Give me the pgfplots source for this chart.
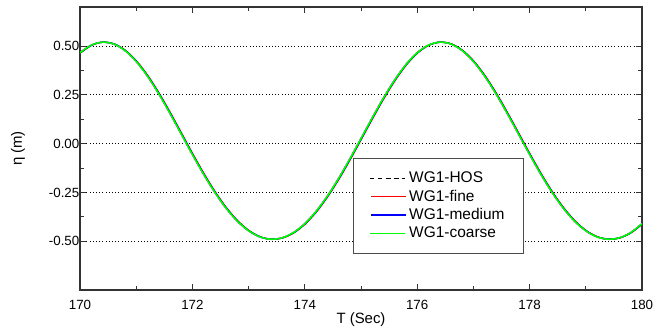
\documentclass[border=0pt]{standalone}
\usepackage{fontspec}
\setmainfont{Liberation Sans}
\usepackage{pgfplots}
\pgfplotsset{compat=1.18}
\usepackage{pgfplotstable}
\definecolor{cred}{RGB}{255,0,0}
\definecolor{cblue}{RGB}{0,0,255}
\definecolor{cgreen}{RGB}{0,255,0}
\pgfplotstableread{
t eta
170.0 0.4665
170.2 0.5051
170.4 0.5199
170.6 0.5100
170.8 0.4761
171.0 0.4199
171.2 0.3448
171.4 0.2547
171.6 0.1543
171.8 0.0488
172.0 -0.0571
172.2 -0.1584
172.4 -0.2513
172.6 -0.3322
172.8 -0.3982
173.0 -0.4473
173.2 -0.4783
173.4 -0.4899
173.6 -0.4822
173.8 -0.4551
174.0 -0.4095
174.2 -0.3466
174.4 -0.2685
174.6 -0.1779
174.8 -0.0778
175.0 0.0275
175.2 0.1334
175.4 0.2353
175.6 0.3278
175.8 0.4062
176.0 0.4665
176.2 0.5051
176.4 0.5199
176.6 0.5100
176.8 0.4761
177.0 0.4199
177.2 0.3448
177.4 0.2547
177.6 0.1543
177.8 0.0488
178.0 -0.0571
178.2 -0.1584
178.4 -0.2513
178.6 -0.3322
178.8 -0.3982
179.0 -0.4473
179.2 -0.4783
179.4 -0.4899
179.6 -0.4822
179.8 -0.4551
180.0 -0.4095
}\wgdata
\begin{document}
\begin{tikzpicture}
\begin{axis}[
  at={(0,0)}, anchor=south west,
  scale only axis,
  width=421.5pt, height=212.25pt,
  xmin=170, xmax=180, ymin=-0.75, ymax=0.70,
  xtick={170,172,...,180},
  minor x tick num=1,
  ytick={-0.5,-0.25,0,0.25,0.5},
  minor y tick num=1,
  yticklabel style={/pgf/number format/.cd, fixed, fixed zerofill, precision=2},
  /pgf/number format/assume math mode=true,
  tick align=inside,
  major tick length=4.5pt, minor tick length=3pt,
  tick style={black!80, line width=0.6pt},
  axis line style={black!80, line width=0.8pt},
  ymajorgrids,
  major grid style={black, dotted, line width=0.6pt},
  tick label style={font=\fontsize{10}{12}\selectfont},
  xticklabel shift=4pt,
  yticklabel shift=-3pt,
  xlabel={T (Sec)},
  ylabel={η (m)},
  every axis x label/.style={at={(rel axis cs:0.5,0)}, anchor=center, yshift=-22.5pt, font=\fontsize{11.2}{13}\selectfont},
  every axis y label/.style={at={(rel axis cs:0,0.5)}, anchor=center, xshift=-46.5pt, rotate=90, font=\fontsize{11.2}{13}\selectfont},
  legend style={at={(rel axis cs:0.486,0.466)}, anchor=north west,
    draw=black!70, line width=0.6pt, inner xsep=12pt, inner ysep=8pt,
    font=\fontsize{11.6}{14}\selectfont, row sep=0pt},
  legend cell align=left,
  legend image code/.code={\draw[mark repeat=2,mark phase=2,#1] plot coordinates {(0pt,0pt) (13pt,0pt) (26pt,0pt)};},
]
\addplot[black, draw=black, dashed, line width=0.7pt, smooth] table[x=t,y=eta] {\wgdata};
\addlegendentry{WG1-HOS}
\addplot[color=cred, draw=cred, line width=1.1pt, smooth, xshift=0.6pt] table[x=t,y=eta] {\wgdata};
\addlegendentry{WG1-fine}
\addplot[color=cblue, draw=cblue, line width=1.1pt, smooth, xshift=0.3pt] table[x=t,y=eta] {\wgdata};
\addlegendentry{WG1-medium}
\addplot[color=cgreen, draw=cgreen, line width=1.2pt, smooth] table[x=t,y=eta] {\wgdata};
\addlegendentry{WG1-coarse}
\end{axis}
\path[use as bounding box] (-60pt,-31.5pt) rectangle (440.25pt,217.5pt);
\end{tikzpicture}
\end{document}
